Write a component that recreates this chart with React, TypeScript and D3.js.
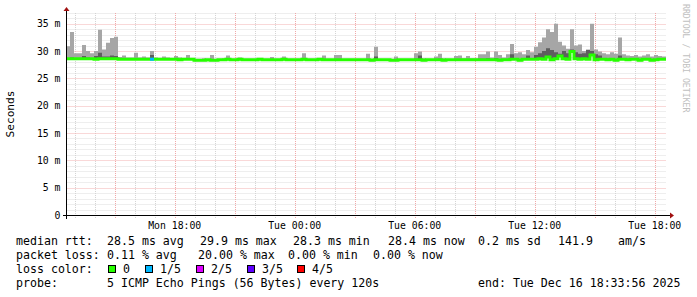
import React from "react";
import * as d3 from "d3";

// ---- data ----
const START = new Date(2025, 11, 15, 12, 33, 56);
const END = new Date(2025, 11, 16, 18, 33, 56);
const STEP_MIN = 12;

const medianRtt = [
  28.6, 28.6, 28.6, 28.6, 28.6, 28.6, 28.6, 28.5, 28.6, 28.6,
  28.6, 28.6, 28.6, 28.5, 28.5, 28.5, 28.5, 28.5, 28.5, 28.5,
  28.5, 28.5, 28.5, 28.5, 28.5, 28.5, 28.5, 28.5, 28.4, 28.5,
  28.5, 28.5, 28.3, 28.3, 28.3, 28.4, 28.3, 28.3, 28.4, 28.4,
  28.5, 28.4, 28.4, 28.5, 28.4, 28.4, 28.4, 28.4, 28.5, 28.4,
  28.4, 28.4, 28.4, 28.4, 28.5, 28.4, 28.4, 28.4, 28.4, 28.5,
  28.4, 28.4, 28.4, 28.5, 28.4, 28.4, 28.4, 28.4, 28.4, 28.4,
  28.4, 28.4, 28.4, 28.4, 28.4, 28.4, 28.3, 28.4, 28.4, 28.4,
  28.4, 28.3, 28.3, 28.4, 28.4, 28.4, 28.4, 28.4, 28.4, 28.3,
  28.4, 28.4, 28.4, 28.4, 28.3, 28.4, 28.4, 28.4, 28.4, 28.4,
  28.4, 28.4, 28.4, 28.4, 28.4, 28.4, 28.4, 28.4, 28.3, 28.4,
  28.4, 28.5, 28.5, 28.3, 28.5, 28.5, 28.5, 28.5, 28.6, 28.5,
  28.9, 28.4, 28.6, 29.1, 28.6, 28.5, 29.9, 28.6, 28.5, 28.6,
  28.5, 29.3, 28.4, 28.5, 28.5, 28.4, 28.5, 28.3, 28.5, 28.5,
  28.4, 28.5, 28.5, 28.3, 28.5, 28.5, 28.3, 28.4, 28.5, 28.5,
];

const smokeMax = [
  30.9, 33.5, 29.6, 29.6, 31.1, 30.0, 29.6, 30.0, 33.9, 30.3,
  31.5, 32.4, 32.6, 28.9, 29.2, 28.8, 28.8, 29.7, 28.8, 29.0,
  28.8, 30.0, 28.8, 28.7, 29.0, 28.8, 28.7, 29.1, 28.8, 28.7,
  29.3, 28.7, 28.6, 28.6, 28.7, 28.6, 29.3, 28.6, 28.6, 28.7,
  29.2, 28.6, 28.6, 28.8, 28.6, 28.6, 28.6, 28.6, 28.6, 28.6,
  28.6, 28.9, 28.6, 28.6, 29.0, 28.6, 28.6, 28.6, 28.6, 29.6,
  28.6, 28.6, 28.6, 28.6, 29.2, 28.6, 28.6, 29.3, 29.3, 28.6,
  28.6, 28.6, 28.6, 28.6, 28.6, 29.5, 28.6, 30.8, 28.6, 28.6,
  28.6, 28.6, 29.0, 28.6, 28.6, 28.6, 28.6, 29.6, 29.9, 28.7,
  28.6, 28.6, 29.0, 29.5, 28.7, 28.6, 28.6, 29.1, 29.2, 28.7,
  29.1, 28.7, 28.7, 29.4, 29.4, 29.9, 28.8, 29.9, 29.3, 28.8,
  29.4, 31.3, 29.6, 29.8, 29.4, 30.2, 29.8, 30.8, 31.6, 32.5,
  34.0, 33.5, 35.0, 31.7, 31.0, 30.4, 34.0, 31.0, 31.2, 30.0,
  30.3, 35.0, 30.3, 29.9, 29.6, 29.4, 29.8, 29.5, 32.5, 29.4,
  29.2, 29.1, 29.3, 29.0, 29.2, 29.4, 29.0, 29.3, 29.1, 29.0,
];

const smokeDark = [
  28.7, 28.8, 28.7, 28.7, 29.1, 28.8, 28.7, 29.1, 29.7, 29.0,
  29.0, 29.2, 29.1, 28.6, 28.6, 28.6, 28.6, 28.7, 28.6, 28.6,
  28.6, 29.3, 28.6, 28.6, 28.6, 28.6, 28.6, 28.6, 28.5, 28.6,
  28.6, 28.6, 28.4, 28.4, 28.4, 28.5, 28.4, 28.4, 28.5, 28.5,
  28.6, 28.5, 28.5, 28.6, 28.5, 28.5, 28.5, 28.5, 28.6, 28.5,
  28.5, 28.5, 28.5, 28.5, 28.6, 28.5, 28.5, 28.5, 28.5, 28.6,
  28.5, 28.5, 28.5, 28.6, 28.5, 28.5, 28.5, 28.5, 28.5, 28.5,
  28.5, 28.5, 28.5, 28.5, 28.5, 28.5, 28.4, 29.0, 28.5, 28.5,
  28.5, 28.4, 28.4, 28.5, 28.5, 28.5, 28.5, 28.6, 29.2, 28.4,
  28.5, 28.5, 28.5, 28.6, 28.4, 28.5, 28.5, 28.5, 28.5, 28.5,
  28.5, 28.5, 28.5, 28.6, 28.6, 28.7, 28.5, 28.7, 28.4, 28.5,
  28.5, 29.4, 28.6, 28.5, 28.6, 29.2, 28.7, 29.3, 29.6, 30.0,
  30.5, 30.2, 29.8, 29.5, 30.0, 29.6, 30.3, 29.8, 29.5, 29.6,
  30.2, 30.0, 29.4, 29.2, 28.7, 28.6, 28.7, 28.5, 29.2, 28.6,
  28.5, 28.6, 28.6, 28.4, 28.6, 28.6, 28.4, 28.5, 28.6, 28.6,
];

const lossLevel = [
  0, 0, 0, 0, 0, 0, 0, 0, 0, 0,
  0, 0, 0, 0, 0, 0, 0, 0, 0, 0,
  0, 1, 0, 0, 0, 0, 0, 0, 0, 0,
  0, 0, 0, 0, 0, 0, 0, 0, 0, 0,
  0, 0, 0, 0, 0, 0, 0, 0, 0, 0,
  0, 0, 0, 0, 0, 0, 0, 0, 0, 0,
  0, 0, 0, 0, 0, 0, 0, 0, 0, 0,
  0, 0, 0, 0, 0, 0, 0, 0, 0, 0,
  0, 0, 0, 0, 0, 0, 0, 0, 0, 0,
  0, 0, 0, 0, 0, 0, 0, 0, 0, 0,
  0, 0, 0, 0, 0, 0, 0, 0, 0, 0,
  0, 0, 0, 0, 0, 0, 0, 0, 0, 0,
  0, 0, 0, 0, 0, 0, 0, 0, 0, 0,
  0, 0, 0, 0, 0, 0, 0, 0, 0, 0,
  0, 0, 0, 0, 0, 0, 0, 0, 0, 0,
];

const yTickValues = [0, 5, 10, 15, 20, 25, 30, 35];
const lossColors = ["#26ff00", "#00b8ff", "#dd00ff", "#5e00ff", "#ff0000"];
const lossLabels = ["0", "1/5", "2/5", "3/5", "4/5"];

const legendRtt = ["median rtt:", "28.5 ms avg", "29.9 ms max", "28.3 ms min", "28.4 ms now", "0.2 ms sd", "141.9", "am/s"];
const legendLoss = ["packet loss:", "0.11 % avg", "20.00 % max", "0.00 % min", "0.00 % now"];
const legendProbe = ["probe:", "5 ICMP Echo Pings (56 Bytes) every 120s", "end: Tue Dec 16 18:33:56 2025"];

// ---- layout ----
const rttX = [16, 107, 200, 293, 388, 478, 558, 618];
const lossX = [16, 107, 198, 288, 373];
const probeX = [16, 107, 478];
const boxX = [108, 145, 196, 247, 297];
const FONT = "'DejaVu Sans Mono', monospace";

export default function App() {
  const x = d3.scaleTime().domain([START, END]).range([66, 666]);
  const y = d3.scaleLinear().domain([0, 37]).range([215, 12.8]);

  const pts = medianRtt.map((m, i) => ({
    t: d3.timeMinute.offset(START, i * STEP_MIN),
    m,
    hi: smokeMax[i],
    dk: smokeDark[i],
    loss: lossLevel[i],
  }));
  const ext = [...pts, { ...pts[pts.length - 1], t: END }];

  const areaLight = d3
    .area<any>()
    .x((d) => x(d.t))
    .y0((d) => y(d.m - 0.15))
    .y1((d) => y(d.hi))
    .curve(d3.curveStepAfter);
  const areaDark = d3
    .area<any>()
    .x((d) => x(d.t))
    .y0((d) => y(d.m - 0.1))
    .y1((d) => y(d.dk))
    .curve(d3.curveStepAfter);
  const medLine = d3
    .line<any>()
    .x((d) => x(d.t))
    .y((d) => y(d.m))
    .curve(d3.curveStepAfter);

  const lossSegs = pts
    .map((p, i) => ({ p, next: ext[i + 1] }))
    .filter((s) => s.p.loss > 0);

  const hours = d3.timeHour.range(START, END);
  const minorV = hours.filter((h) => h.getHours() % 3 !== 0);
  const majorV = hours.filter((h) => h.getHours() % 3 === 0);
  const labelV = hours.filter((h) => h.getHours() % 6 === 0);
  const minorH = d3.range(1, 38).filter((v) => v % 5 !== 0);
  const majorH = yTickValues.filter((v) => v > 0);
  const fmt = d3.timeFormat("%a %H:%M");
  const cx = (d: Date) => Math.round(x(d)) + 0.5;
  const cy = (v: number) => Math.round(y(v)) + 0.5;
  const x0 = 66.5;
  const yBase = 215.5;
  const yTop = 13;

  return (
    <svg
      width={697}
      height={297}
      style={{ position: "fixed", left: 0, top: 0, background: "#ffffff" }}
      fontFamily={FONT}
    >
      <rect x={0} y={0} width={697} height={297} fill="#ffffff" />
      {/* grid */}
      <g strokeWidth={1} strokeDasharray="1,1" fill="none">
        {minorH.map((v) => (
          <line key={"mh" + v} x1={x0} x2={666} y1={cy(v)} y2={cy(v)} stroke="#dcdcdc" />
        ))}
        {minorV.map((h) => (
          <line key={"mv" + +h} x1={cx(h)} x2={cx(h)} y1={yTop} y2={218} stroke="#d4d4d4" />
        ))}
        {majorH.map((v) => (
          <line key={"Mh" + v} x1={x0} x2={666} y1={cy(v)} y2={cy(v)} stroke="#f2b0b0" />
        ))}
        {majorV.map((h) => (
          <line key={"Mv" + +h} x1={cx(h)} x2={cx(h)} y1={yTop} y2={219} stroke="#f0a8a8" />
        ))}
      </g>
      {/* smoke */}
      <path d={areaLight(ext) || ""} fill="#a6a6a6" />
      <path d={areaDark(ext) || ""} fill="#5e5e5e" />
      {/* median */}
      <path d={medLine(ext) || ""} fill="none" stroke={lossColors[0]} strokeWidth={3} />
      {lossSegs.map((s, i) => (
        <path
          key={"ls" + i}
          d={medLine([s.p, { ...s.next, m: s.p.m }]) || ""}
          fill="none"
          stroke={lossColors[s.p.loss]}
          strokeWidth={3}
        />
      ))}
      {/* axes */}
      <line x1={63} x2={670} y1={yBase} y2={yBase} stroke="#000" strokeWidth={1} />
      <line x1={x0} x2={x0} y1={219} y2={10} stroke="#000" strokeWidth={1} />
      <path d={`M670,${yBase - 3}L674,${yBase}L670,${yBase + 3}Z`} fill="#a01010" />
      <path d={`M${x0 - 3},11L${x0},7L${x0 + 3},11Z`} fill="#a01010" />
      {/* y labels */}
      {yTickValues.map((v) => (
        <text key={"yl" + v} x={60.5} y={y(v) + 3.6} textAnchor="end" fontSize={9.8} fill="#000">
          {v === 0 ? "0" : `${v} m`}
        </text>
      ))}
      {/* x labels */}
      {labelV.map((h) => (
        <text key={"xl" + +h} x={x(h)} y={228.5} textAnchor="middle" fontSize={9.8} fill="#000">
          {fmt(h)}
        </text>
      ))}
      <text x={13.5} y={114} transform="rotate(-90,13.5,114)" textAnchor="middle" fontSize={11.2} fill="#000">
        Seconds
      </text>
      <text x={683} y={4} transform="rotate(90,683,4)" fontSize={8.2} fill="#c0c0c0">
        RRDTOOL / TOBI OETIKER
      </text>
      {/* legend */}
      <g fontSize={11.6} fill="#000">
        {legendRtt.map((s, i) => (
          <text key={"r" + i} x={rttX[i]} y={245} xmlSpace="preserve">{s}</text>
        ))}
        {legendLoss.map((s, i) => (
          <text key={"l" + i} x={lossX[i]} y={259} xmlSpace="preserve">{s}</text>
        ))}
        <text x={16} y={273}>loss color:</text>
        {lossLabels.map((s, i) => (
          <g key={"c" + i}>
            <rect x={boxX[i] + 0.5} y={265.5} width={7} height={7} fill={lossColors[i]} stroke="#000" strokeWidth={1} />
            <text x={boxX[i] + 15} y={273}>{s}</text>
          </g>
        ))}
        {legendProbe.map((s, i) => (
          <text key={"p" + i} x={probeX[i]} y={287} xmlSpace="preserve">{s}</text>
        ))}
      </g>
    </svg>
  );
}
